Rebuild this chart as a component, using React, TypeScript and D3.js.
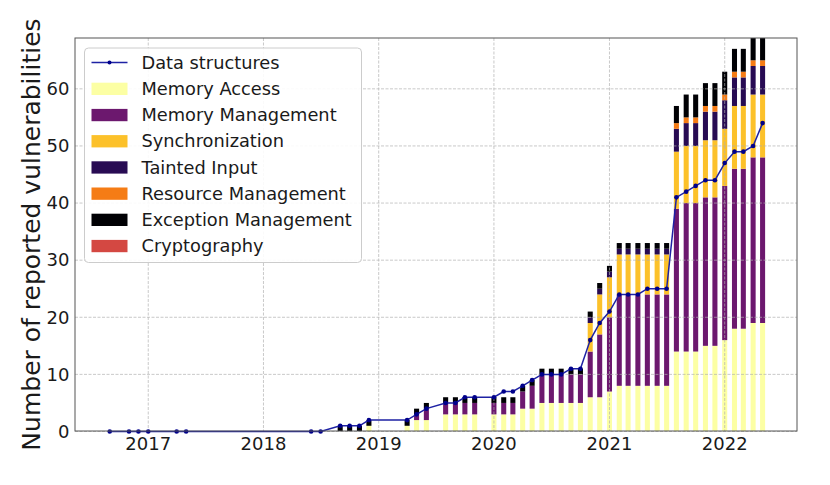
import { useEffect, useRef } from 'react';
import * as d3 from 'd3';

const months = [
    '2016-09', '2016-11', '2016-12', '2017-01', '2017-04', '2017-05', '2018-06', '2018-07',
    '2018-09', '2018-10', '2018-11', '2018-12', '2019-04', '2019-05', '2019-06', '2019-08',
    '2019-09', '2019-10', '2019-11', '2020-01', '2020-02', '2020-03', '2020-04', '2020-05',
    '2020-06', '2020-07', '2020-08', '2020-09', '2020-10', '2020-11', '2020-12', '2021-01',
    '2021-02', '2021-03', '2021-04', '2021-05', '2021-06', '2021-07', '2021-08', '2021-09',
    '2021-10', '2021-11', '2021-12', '2022-01', '2022-02', '2022-03', '2022-04', '2022-05',
];

const memoryAccess = [
    0, 0, 0, 0, 0, 0, 0, 0, 0, 0, 0, 1, 1, 2, 2, 3,
    3, 3, 3, 3, 3, 3, 4, 4, 5, 5, 5, 5, 5, 6, 6, 7,
    8, 8, 8, 8, 8, 8, 14, 14, 14, 15, 15, 16, 18, 18, 19, 19,
];
const memoryManagement = [
    0, 0, 0, 0, 0, 0, 0, 0, 0, 0, 0, 0, 0, 1, 2, 2,
    2, 2, 2, 2, 2, 2, 3, 4, 5, 5, 5, 5, 5, 8, 11, 13,
    16, 16, 16, 16, 16, 16, 25, 26, 26, 26, 26, 27, 28, 28, 29, 29,
];
const synchronization = [
    0, 0, 0, 0, 0, 0, 0, 0, 0, 0, 0, 0, 0, 0, 0, 0,
    0, 0, 0, 0, 0, 0, 0, 0, 0, 0, 0, 0, 0, 5, 7, 7,
    7, 7, 7, 7, 7, 7, 10, 10, 10, 10, 10, 10, 11, 11, 11, 11,
];
const taintedInput = [
    0, 0, 0, 0, 0, 0, 0, 0, 0, 0, 0, 0, 0, 0, 0, 0,
    0, 0, 0, 0, 0, 0, 0, 0, 0, 0, 0, 0, 0, 1, 1, 1,
    1, 1, 1, 1, 1, 1, 4, 4, 4, 5, 5, 5, 5, 5, 5, 5,
];
const resourceManagement = [
    0, 0, 0, 0, 0, 0, 0, 0, 0, 0, 0, 0, 0, 0, 0, 0,
    0, 0, 0, 0, 0, 0, 0, 0, 0, 0, 0, 0, 0, 0, 0, 0,
    0, 0, 0, 0, 0, 0, 1, 1, 1, 1, 1, 1, 1, 1, 1, 1,
];
const exceptionManagement = [
    0, 0, 0, 0, 0, 0, 0, 0, 1, 1, 1, 1, 1, 1, 1, 1,
    1, 1, 1, 1, 1, 1, 1, 1, 1, 1, 1, 1, 1, 1, 1, 1,
    1, 1, 1, 1, 1, 1, 3, 4, 4, 4, 4, 4, 4, 4, 6, 6,
];
const cryptography = months.map(() => 0);

const dataStructures = [
    0, 0, 0, 0, 0, 0, 0, 0, 1, 1, 1, 2, 2, 3, 4, 5,
    5, 6, 6, 6, 7, 7, 8, 9, 10, 10, 10, 11, 11, 16, 19, 21,
    24, 24, 24, 25, 25, 25, 41, 42, 43, 44, 44, 47, 49, 49, 50, 54,
];

const categories = [
    { key: 'Memory Access', values: memoryAccess, color: '#fcffa4' },
    { key: 'Memory Management', values: memoryManagement, color: '#6c186e' },
    { key: 'Synchronization', values: synchronization, color: '#fcc12a' },
    { key: 'Tainted Input', values: taintedInput, color: '#280b53' },
    { key: 'Resource Management', values: resourceManagement, color: '#f57c15' },
    { key: 'Exception Management', values: exceptionManagement, color: '#000004' },
    { key: 'Cryptography', values: cryptography, color: '#d44842' },
];

const yTicks = [0, 10, 20, 30, 40, 50, 60];

const W = 830;
const H = 485;
const margin = { left: 75, right: 33, top: 38, bottom: 54 };

export default function App() {
    const ref = useRef(null);

    useEffect(() => {
        const svg = d3.select(ref.current);
        svg.selectAll('*').remove();

        const font = 'DejaVu Sans, sans-serif';
        const ink = '#1a1a1a';
        const parse = d3.timeParse('%Y-%m');
        const dates = months.map((m) => parse(m));

        const rows = dates.map((d, i) => {
            const row = { date: d };
            categories.forEach((c) => { row[c.key] = c.values[i]; });
            return row;
        });

        const x = d3.scaleTime()
            .domain([new Date(2016, 4, 14), new Date(2022, 7, 18)])
            .range([margin.left, W - margin.right]);
        const y = d3.scaleLinear()
            .domain([0, 68.9])
            .range([H - margin.bottom + 0.5, margin.top]);

        const stack = d3.stack().keys(categories.map((c) => c.key));
        const layers = stack(rows);

        svg.append('defs').append('clipPath').attr('id', 'plot-clip')
            .append('rect')
            .attr('x', margin.left)
            .attr('y', margin.top)
            .attr('width', W - margin.left - margin.right)
            .attr('height', H - margin.top - margin.bottom);

        const halfBar = (d) => (x(d3.timeDay.offset(d, 8)) - x(d3.timeDay.offset(d, -8))) / 2;

        // stacked bars
        const barG = svg.append('g').attr('clip-path', 'url(#plot-clip)');
        layers.forEach((layer, li) => {
            barG.append('g')
                .attr('fill', categories[li].color)
                .selectAll('rect')
                .data(layer.filter((s) => s[1] > s[0]))
                .join('rect')
                .attr('x', (s) => x(s.data.date) - halfBar(s.data.date))
                .attr('width', (s) => halfBar(s.data.date) * 2)
                .attr('y', (s) => y(s[1]))
                .attr('height', (s) => y(s[0]) - y(s[1]));
        });

        // grid on top of bars
        const years = x.ticks(d3.timeYear.every(1));
        const grid = svg.append('g')
            .attr('stroke', '#b0b0b0')
            .attr('stroke-width', 0.8)
            .attr('stroke-dasharray', '3,1.5')
            .attr('opacity', 0.85);
        years.forEach((t) => {
            grid.append('line')
                .attr('x1', x(t)).attr('x2', x(t))
                .attr('y1', margin.top).attr('y2', H - margin.bottom);
        });
        yTicks.forEach((t) => {
            grid.append('line')
                .attr('x1', margin.left).attr('x2', W - margin.right)
                .attr('y1', y(t)).attr('y2', y(t));
        });

        // data structures line
        const line = d3.line()
            .x((d, i) => x(dates[i]))
            .y((d) => y(d));
        svg.append('path')
            .datum(dataStructures)
            .attr('fill', 'none')
            .attr('stroke', '#1e22a4')
            .attr('stroke-width', 1.5)
            .attr('d', line);
        svg.append('g')
            .attr('fill', '#00008b')
            .selectAll('circle')
            .data(dataStructures)
            .join('circle')
            .attr('cx', (d, i) => x(dates[i]))
            .attr('cy', (d) => y(d))
            .attr('r', 2.3);

        // frame
        svg.append('rect')
            .attr('x', margin.left)
            .attr('y', margin.top)
            .attr('width', W - margin.left - margin.right)
            .attr('height', H - margin.top - margin.bottom)
            .attr('fill', 'none')
            .attr('stroke', '#555')
            .attr('stroke-width', 1);

        // x axis labels (no tick marks)
        const xAxis = svg.append('g');
        years.forEach((t) => {
            xAxis.append('text')
                .attr('x', x(t))
                .attr('y', H - margin.bottom + 19)
                .attr('text-anchor', 'middle')
                .attr('font-family', font)
                .attr('font-size', 18)
                .attr('fill', ink)
                .text(d3.timeFormat('%Y')(t));
        });

        // y axis labels
        const yAxis = svg.append('g');
        yTicks.forEach((t) => {
            yAxis.append('text')
                .attr('x', margin.left - 5.5)
                .attr('y', y(t))
                .attr('dy', '0.35em')
                .attr('text-anchor', 'end')
                .attr('font-family', font)
                .attr('font-size', 18)
                .attr('fill', ink)
                .text(t);
        });

        svg.append('text')
            .attr('transform', `translate(40, ${(margin.top + H - margin.bottom) / 2}) rotate(-90)`)
            .attr('text-anchor', 'middle')
            .attr('font-family', font)
            .attr('font-size', 25)
            .attr('fill', ink)
            .text('Number of reported vulnerabilities');

        // legend
        const lg = svg.append('g');
        lg.append('rect')
            .attr('x', 84.5).attr('y', 48)
            .attr('width', 277).attr('height', 214.5)
            .attr('rx', 4)
            .attr('fill', 'white')
            .attr('fill-opacity', 0.9)
            .attr('stroke', '#cccccc');
        const rowY = (i) => 62.5 + i * 26.2;
        lg.append('line')
            .attr('x1', 91.5).attr('x2', 127.5)
            .attr('y1', rowY(0)).attr('y2', rowY(0))
            .attr('stroke', '#1e22a4')
            .attr('stroke-width', 1.5);
        lg.append('circle')
            .attr('cx', 109.5).attr('cy', rowY(0)).attr('r', 2)
            .attr('fill', '#00008b');
        const entries = ['Data structures', ...categories.map((c) => c.key)];
        entries.forEach((name, i) => {
            if (i > 0) {
                lg.append('rect')
                    .attr('x', 91.5).attr('y', rowY(i) - 6)
                    .attr('width', 36).attr('height', 12.3)
                    .attr('fill', categories[i - 1].color);
            }
            lg.append('text')
                .attr('x', 141.5)
                .attr('y', rowY(i))
                .attr('dy', '0.35em')
                .attr('font-family', font)
                .attr('font-size', 17.8)
                .attr('fill', ink)
                .text(name);
        });
    }, []);

    return (
        <svg
            ref={ref}
            width={W}
            height={H}
            style={{ position: 'absolute', left: 0, top: 0, background: 'white' }}
        />
    );
}
